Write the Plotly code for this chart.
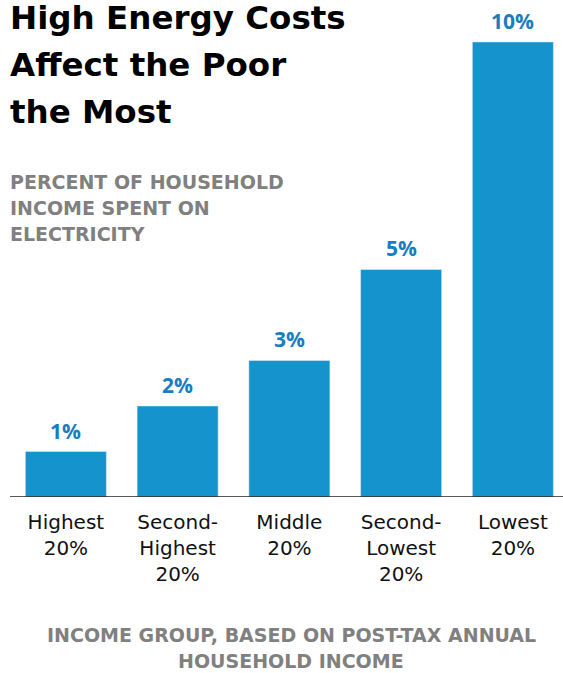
import plotly.graph_objects as go

categories = ["Highest<br>20%", "Second-<br>Highest<br>20%", "Middle<br>20%", "Second-<br>Lowest<br>20%", "Lowest<br>20%"]
values = [1, 2, 3, 5, 10]
labels = ["1%", "2%", "3%", "5%", "10%"]

title_lines = ["High Energy Costs", "Affect the Poor", "the Most"]
subtitle_lines = ["PERCENT OF HOUSEHOLD", "INCOME SPENT ON", "ELECTRICITY"]
xtitle_lines = ["INCOME GROUP, BASED ON POST-TAX ANNUAL", "HOUSEHOLD INCOME"]

BAR = "#1593CD"
LAB = "#1A7DC0"
GRAY = "#808080"
FONT = "DejaVu Sans"

W, H = 563, 673
BASE = 497.5
ml, mr, mt = 10, 0, 0
mb = H - BASE
plot_h = BASE - mt
px_per_unit = 45.55
xs = list(range(len(categories)))

fig = go.Figure(go.Bar(
    x=xs, y=values, marker_color=BAR, width=0.725, hoverinfo="skip",
))

ann = []
for x, v, t in zip(xs, values, labels):
    ann.append(dict(x=x, y=v, xref="x", yref="y", text=f"<b>{t}</b>", showarrow=False,
                    yanchor="middle", yshift=21, font=dict(family="Open Sans", size=21, color=LAB)))

def px(a):
    a["x"] = (a["x"] - ml) / (W - ml - mr)
    a["y"] = (H - a["y"] - mb) / plot_h
    return a

for i, line in enumerate(title_lines):
    ann.append(px(dict(x=8, y=18 + 47 * i, xref="paper", yref="paper", text=f"<b>{line}</b>",
                       showarrow=False, xanchor="left", yanchor="middle",
                       font=dict(family=FONT, size=32.5, color="#000000"))))

for i, line in enumerate(subtitle_lines):
    ann.append(px(dict(x=8, y=182 + 26 * i, xref="paper", yref="paper", text=f"<b>{line}</b>",
                       showarrow=False, xanchor="left", yanchor="middle",
                       font=dict(family=FONT, size=19, color=GRAY))))

for i, line in enumerate(xtitle_lines):
    ann.append(px(dict(x=291, y=636 + 26 * i, xref="paper", yref="paper", text=f"<b>{line}</b>",
                       showarrow=False, xanchor="center", yanchor="middle",
                       font=dict(family=FONT, size=19, color=GRAY))))

fig.update_layout(
    width=W, height=H,
    margin=dict(l=ml, r=mr, t=mt, b=mb),
    paper_bgcolor="white", plot_bgcolor="white",
    showlegend=False,
    annotations=ann,
    xaxis=dict(range=[-0.5, -0.5 + (W - ml - mr) / 111.75], tickmode="array", tickvals=xs, ticktext=categories,
               showgrid=False, zeroline=False, showline=False,
               ticks="outside", ticklen=7, tickcolor="rgba(0,0,0,0)",
               tickfont=dict(family=FONT, size=20, color="#111111")),
    yaxis=dict(range=[0, plot_h / px_per_unit], visible=False, showgrid=False, zeroline=False),
    shapes=[dict(type="line", xref="paper", yref="y", x0=0, x1=1, y0=0, y1=0,
                 line=dict(color="#222222", width=1.5))],
)

fig.write_html("out.html", config={"displayModeBar": False},
               post_script="document.body.style.margin='0px';")
